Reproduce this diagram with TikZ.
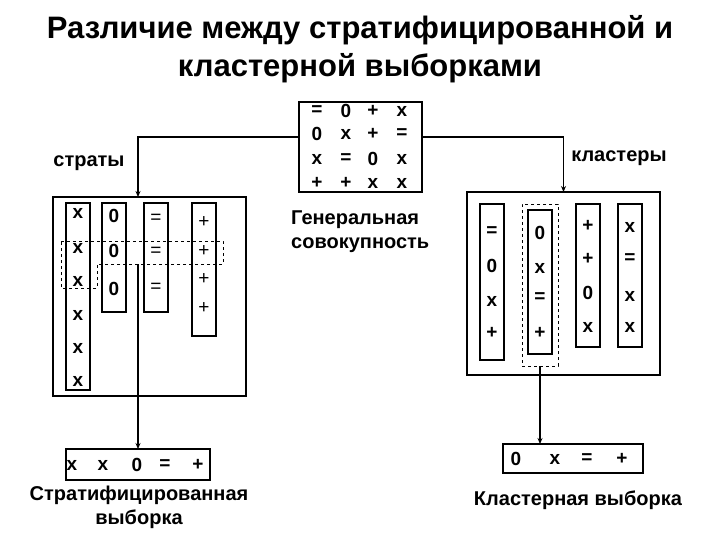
\documentclass[tikz,border=0pt]{standalone}
\usepackage{fontspec}
\setmainfont{Liberation Sans}
\usetikzlibrary{arrows.meta}
\begin{document}
\begin{tikzpicture}[x=1pt,y=-1pt,
  box/.style={draw,line width=1.4pt,inner sep=0pt,outer sep=0pt},
  col/.style={draw,line width=1.3pt,inner sep=0pt,outer sep=0pt,minimum width=24pt},
  dbox/.style={draw,dashed,line width=0.8pt,inner sep=0pt,outer sep=0pt},
  sym/.style={font=\fontsize{19}{19}\selectfont\bfseries,inner sep=0pt},
  thinsym/.style={font=\fontsize{19}{19}\selectfont,inner sep=0pt},
  lbl/.style={font=\fontsize{20}{24}\selectfont\bfseries,inner sep=0pt,align=center},
  conn/.style={line width=1.3pt},
  arr/.style={conn,-{Stealth[length=6pt,width=5pt]}}]
\useasboundingbox (0,0) rectangle (720,540);

% title
\node[font=\fontsize{31}{38}\selectfont\bfseries,align=center,inner sep=0pt] (title) at (360,49)
  {Различие между стратифицированной и\\кластерной выборками};

% population
\node[box,minimum width=123pt,minimum height=90pt] (pop) at (360.5,147) {};
\foreach \n/\x/\y/\t in {p11/317/111/=,p12/346/111/0,p13/373/111/+,p14/402/111/x,
  p21/317/134/0,p22/346/134/x,p23/373/134/+,p24/402/134/=,
  p31/317/159/x,p32/346/159/=,p33/373/159/0,p34/402/159/x,
  p41/317/183/+,p42/346/183/+,p43/373/183/x,p44/402/183/x}
  \node[sym] (\n) at (\x,\y) {\t};
\node[lbl,align=left,anchor=west] (gen) at (291,231.5) {Генеральная\\совокупность};

% strata
\node[lbl] (strlbl) at (89,163) {страты};
\node[box,minimum width=193pt,minimum height=199pt] (str) at (149.5,296.5) {};
\node[col,minimum height=187pt] (sc1) at (78,296.5) {};
\node[col,minimum height=109pt] (sc2) at (114,257.5) {};
\node[col,minimum height=109pt] (sc3) at (156,257.5) {};
\node[col,minimum height=133pt] (sc4) at (204,269.5) {};
\foreach \n/\y in {sx1/213,sx2/248,sx3/281,sx4/315,sx5/348,sx6/381}
  \node[sym] (\n) at (78,\y) {x};
\foreach \n/\y in {so1/216,so2/251,so3/289}
  \node[sym] (\n) at (114,\y) {0};
\foreach \n/\y in {se1/219,se2/252,se3/288}
  \node[thinsym] (\n) at (156,\y) {=};
\foreach \n/\y in {sp1/222,sp2/251,sp3/279,sp4/308}
  \node[thinsym] (\n) at (204,\y) {+};
\draw[dashed,line width=0.8pt] (61,241) -- (223,241) -- (223,264) -- (97,264) -- (97,288) -- (61,288) -- cycle;

% clusters
\node[lbl] (clulbl) at (619,158) {кластеры};
\node[box,minimum width=193pt,minimum height=183pt] (clu) at (563.5,283.5) {};
\node[col,minimum height=156pt] (cc1) at (492,282) {};
\node[dbox,minimum width=36pt,minimum height=162pt] (cdash) at (540,285) {};
\node[col,minimum height=144pt] (cc2) at (540,282) {};
\node[col,minimum height=143pt] (cc3) at (588,275.5) {};
\node[col,minimum height=143pt] (cc4) at (630,275.5) {};
\foreach \n/\x/\y/\t in {k11/492/232/=,k12/492/266/0,k13/492/301/x,k14/492/333/+,
  k21/540/233/0,k22/540/268/x,k23/540/298/=,k24/540/333/+,
  k31/588/226/+,k32/588/259/+,k33/588/293/0,k34/588/327/x,
  k41/630/227/x,k42/630/259/=,k43/630/296/x,k44/630/327/x}
  \node[sym] (\n) at (\x,\y) {\t};

% samples
\node[box,minimum width=144pt,minimum height=31pt] (ssamp) at (138,464.5) {};
\foreach \n/\x/\t in {ss1/72/x,ss2/103/x,ss3/137/0,ss4/165/=,ss5/198/+}
  \node[sym] (\n) at (\x,465) {\t};
\node[lbl] (sslbl) at (139,507) {Стратифицированная\\выборка};

\node[box,minimum width=140pt,minimum height=29pt] (csamp) at (573,458.5) {};
\foreach \n/\x/\t in {cs1/516/0,cs2/555/x,cs3/587/=,cs4/622/+}
  \node[sym] (\n) at (\x,459) {\t};
\node[lbl] (cslbl) at (578,500) {Кластерная выборка};

% connectors
\coordinate (lineY) at (0,137);
\coordinate (sIn) at (138,197);
\coordinate (dashB) at (138,264);
\draw[arr] (pop.west |- lineY) -| (sIn);
\draw[arr] (pop.east |- lineY) -| (clu.north);
\draw[arr] (dashB) -- (dashB |- ssamp.north);
\draw[arr] (cdash.south) -- (cdash.south |- csamp.north);
\end{tikzpicture}
\end{document}
